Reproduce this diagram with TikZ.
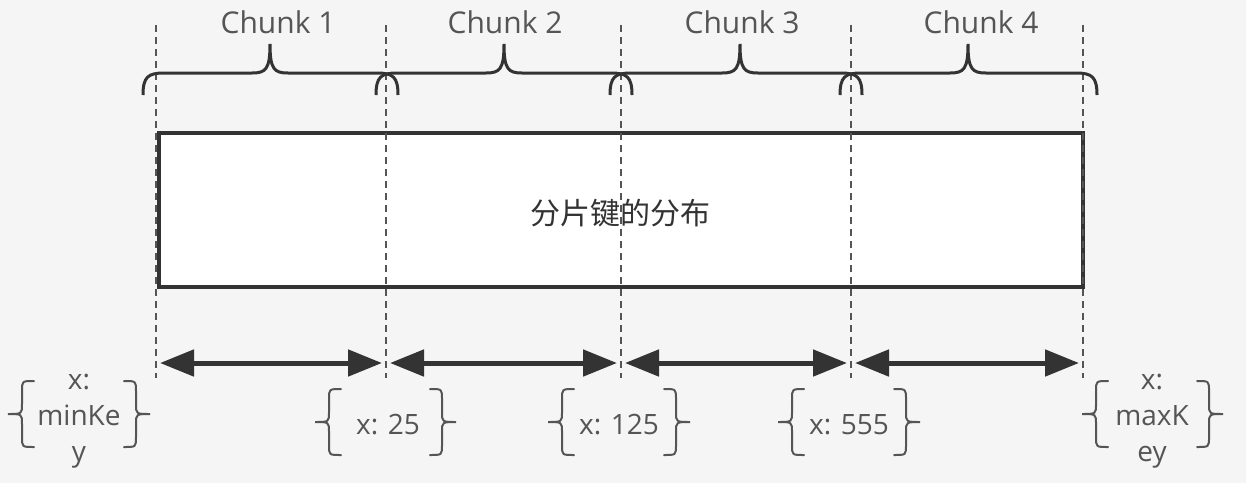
\documentclass[tikz,border=0pt]{standalone}
\usepackage{fontspec}
\setmainfont{Open Sans}
\newfontfamily\cjkfont{Noto Sans CJK SC}
\usetikzlibrary{arrows.meta}
\definecolor{bg}{HTML}{F5F5F5}
\definecolor{ink}{HTML}{333333}
\definecolor{txt}{HTML}{555555}
\newcommand\chunkbrace[3]{%
  \draw[bracepath] (#1,95) .. controls (#1,77) and (#1+5,73) .. (#1+21,73)
    -- (#3-18,73) .. controls (#3-4,73) and (#3,69) .. (#3,44)
    .. controls (#3,69) and (#3+4,73) .. (#3+18,73)
    -- (#2-21,73) .. controls (#2-5,73) and (#2,77) .. (#2,95);}
\begin{document}
\begin{tikzpicture}[x=1pt,y=-1pt,
  guide/.style={draw=txt, line width=1.5pt, dash pattern=on 7pt off 5pt},
  bracepath/.style={draw=ink, line width=3pt},
  lblbrace/.style={draw=txt, line width=2pt, line cap=round},
  span/.style={draw=ink, line width=5pt, shorten <=4pt, shorten >=4pt,
    {Triangle[length=34pt,width=26pt]}-{Triangle[length=34pt,width=26pt]}},
  chunk/.style={text=txt, font=\fontsize{30}{36}\selectfont, inner sep=0pt, anchor=base},
  keylbl/.style={text=txt, font=\fontsize{28}{36}\selectfont, align=center, inner sep=0pt},
  pics/lb/.style={code={\draw[lblbrace] (26,-33) .. controls (14,-33) .. (14,-23) -- (14,-10)
      .. controls (14,0) .. (0,0) .. controls (14,0) .. (14,10) -- (14,23)
      .. controls (14,33) .. (26,33);}},
  pics/rb/.style={code={\draw[lblbrace] (-26,-33) .. controls (-14,-33) .. (-14,-23) -- (-14,-10)
      .. controls (-14,0) .. (0,0) .. controls (-14,0) .. (-14,10) -- (-14,23)
      .. controls (-14,33) .. (-26,33);}},
]
\fill[bg] (0,0) rectangle (1246,483);
\useasboundingbox (0,0) rectangle (1246,483);

% main box
\node[draw=ink, line width=4pt, fill=white, minimum width=924pt, minimum height=154pt,
  inner sep=0pt, anchor=north west] (dist) at (157,131) {};
\node[text=ink, font=\cjkfont\fontsize{30}{36}\selectfont] (distlbl) at (620,213) {分片键的分布};

% guide lines
\foreach \i/\x in {0/156,1/386,2/621,3/851,4/1083}{
  \coordinate (top\i) at (\x,25);
  \coordinate (bot\i) at (\x,378);
  \coordinate (g\i) at (\x,363);
  \draw[guide] (top\i) -- (bot\i);
}

% top braces and chunk labels
\chunkbrace{143}{398}{270}
\chunkbrace{376}{632}{504}
\chunkbrace{610}{862}{740}
\chunkbrace{840}{1097}{968}
\node[chunk] (c1) at (278,33) {Chunk 1};
\node[chunk] (c2) at (505,33) {Chunk 2};
\node[chunk] (c3) at (742,33) {Chunk 3};
\node[chunk] (c4) at (981,33) {Chunk 4};

% span arrows
\draw[span] (g0) -- (g1);
\draw[span] (g1) -- (g2);
\draw[span] (g2) -- (g3);
\draw[span] (g3) -- (g4);

% key labels
\node[keylbl] (kmin) at (79,421) {x:\\minKe\\y};
\pic at (8,414) {lb};
\pic at (150,414) {rb};

\node[keylbl] (k25) at (388,425) {x: 25};
\pic at (315,422) {lb};
\pic at (456,422) {rb};

\node[keylbl] (k125) at (619,425) {x: 125};
\pic at (548,422) {lb};
\pic at (690,422) {rb};

\node[keylbl] (k555) at (849,425) {x: 555};
\pic at (778,422) {lb};
\pic at (920,422) {rb};

\node[keylbl] (kmax) at (1152,421) {x:\\maxK\\ey};
\pic at (1082,414) {lb};
\pic at (1223,414) {rb};
\end{tikzpicture}
\end{document}
